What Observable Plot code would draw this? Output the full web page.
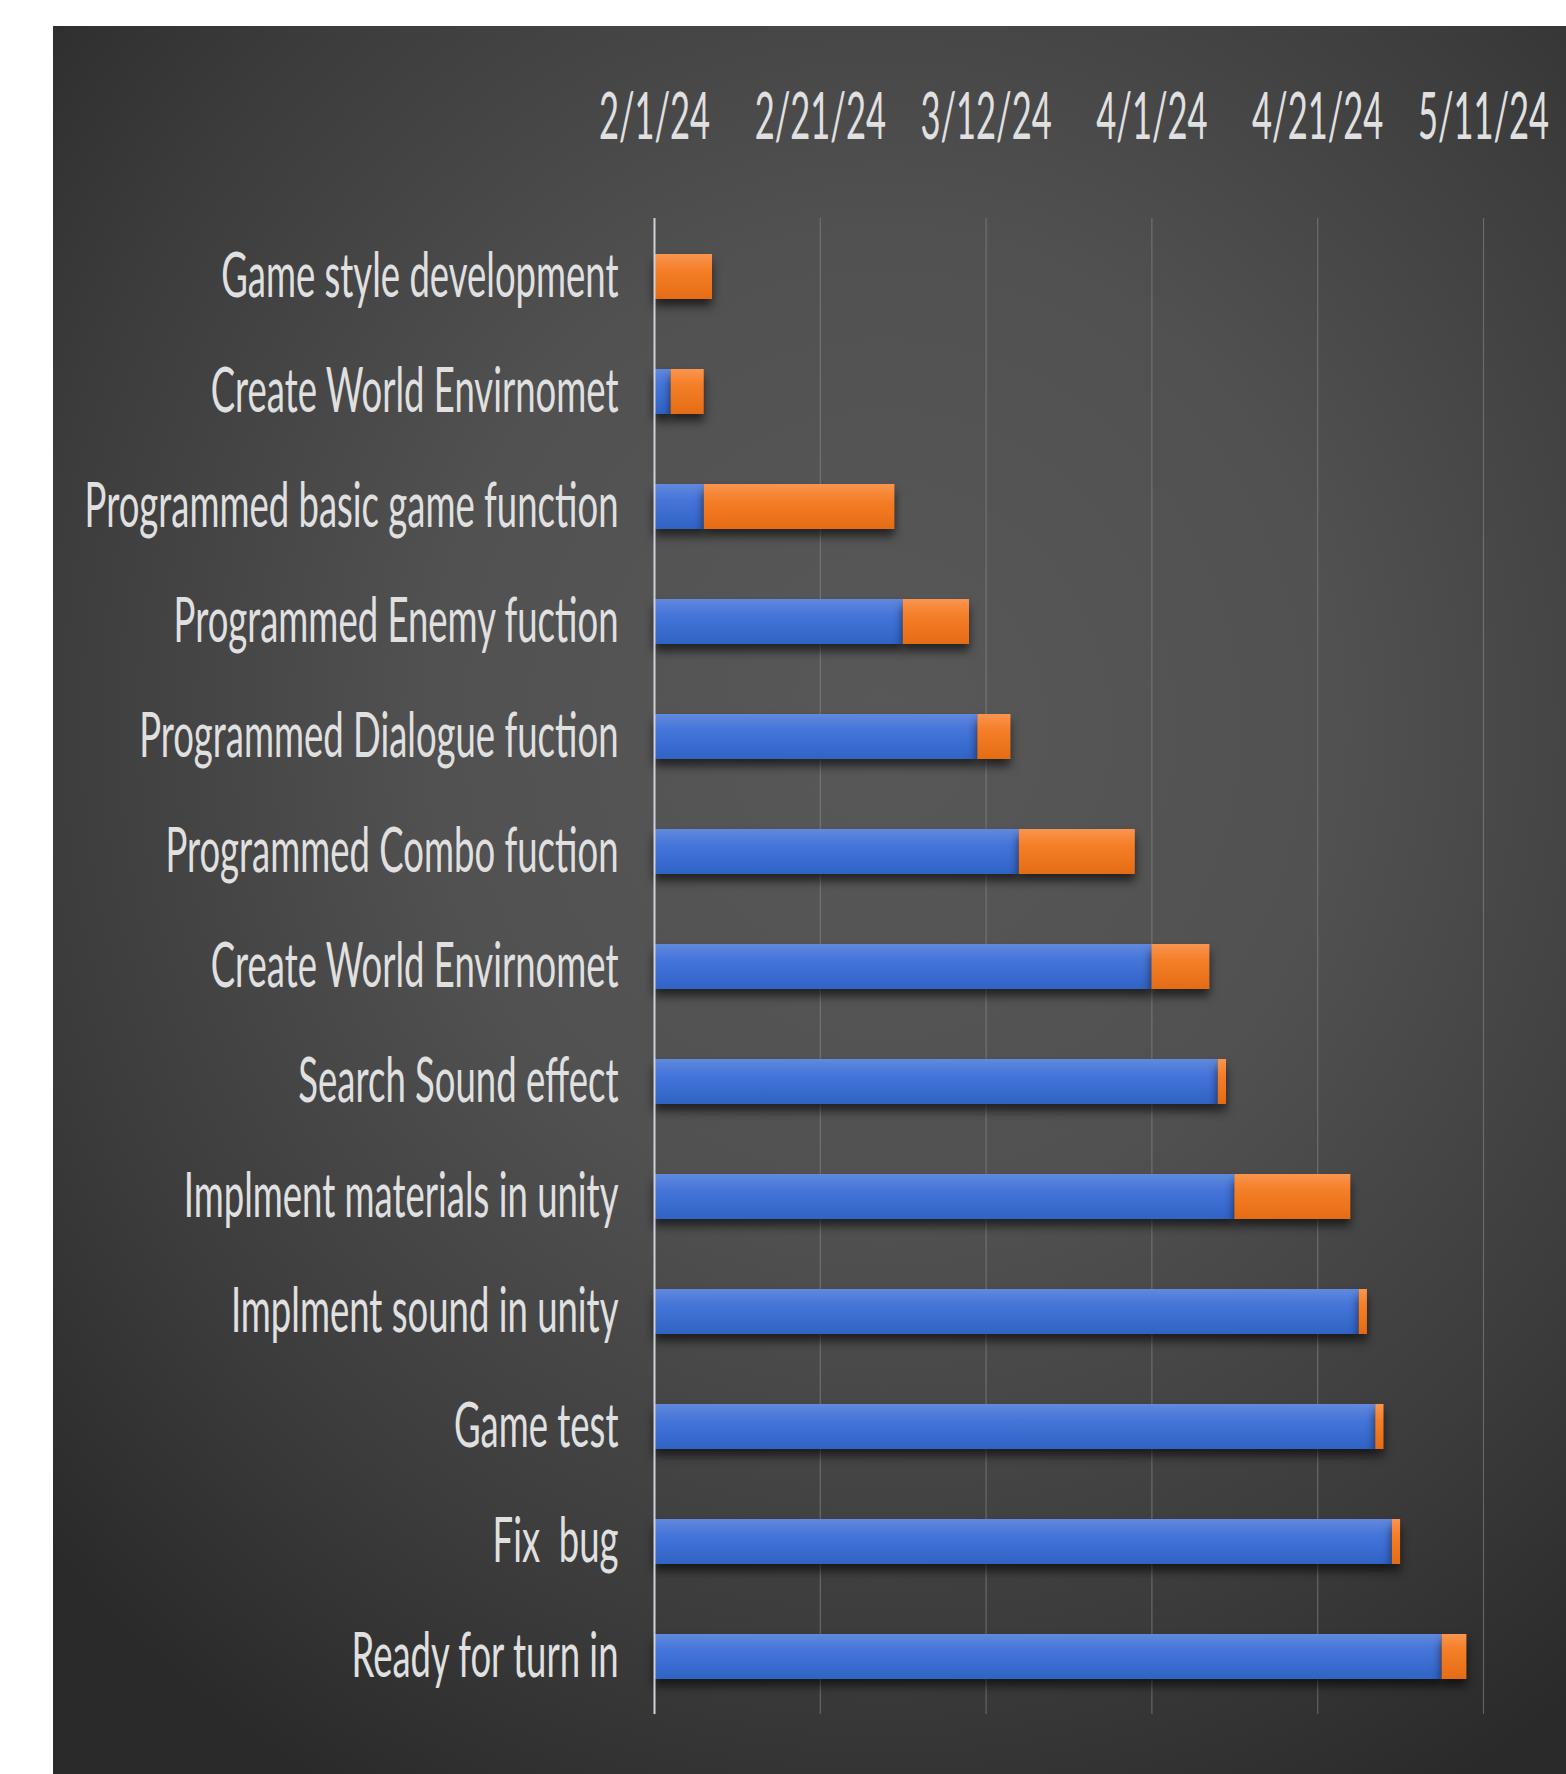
<!DOCTYPE html>
<html><head><meta charset="utf-8">
<script src="https://cdn.jsdelivr.net/npm/d3@7"></script>
<script src="https://cdn.jsdelivr.net/npm/@observablehq/plot@0.6"></script>
<style>
html,body{margin:0;padding:0;background:#fff;}
#panel{position:absolute;left:53px;top:26px;width:1513px;height:1748px;overflow:hidden;
  background:radial-gradient(ellipse 75% 70% at 55% 40%, #585858 0%, #515151 40%, #3c3c3c 75%, #2a2a2a 100%);}
#panel svg{background:transparent;}
g[aria-label="bar"]{filter:drop-shadow(0px 7px 5px rgba(0,0,0,0.6));}
</style></head><body><div id="panel"></div>
<script>
const tasks = [
  "Game style development",
  "Create World Envirnomet",
  "Programmed basic game function",
  "Programmed Enemy fuction",
  "Programmed Dialogue fuction",
  "Programmed Combo fuction",
  "Create World Envirnomet",
  "Search Sound effect",
  "Implment materials in unity",
  "Implment sound in unity",
  "Game test",
  "Fix  bug",
  "Ready for turn in"
];
const startDates = [
  "2024-02-01","2024-02-03","2024-02-07","2024-03-02","2024-03-11","2024-03-16",
  "2024-04-01","2024-04-09","2024-04-11","2024-04-26","2024-04-28","2024-04-30","2024-05-06"
];
const durations = [7, 4, 23, 8, 4, 14, 7, 1, 14, 1, 1, 1, 3];
const tickDates = ["2024-02-01","2024-02-21","2024-03-12","2024-04-01","2024-04-21","2024-05-11"];

const parse = d3.utcParse("%Y-%m-%d");
const ticks = tickDates.map(parse);
const d0 = ticks[0], dEnd = ticks[ticks.length - 1];
const rows = tasks.map((t, i) => {
  const s = parse(startDates[i]);
  return {i, task: t, axisStart: d0, start: s, end: d3.utcDay.offset(s, durations[i])};
});
const fmt = d3.utcFormat("%-m/%-d/%y");

const chart = Plot.plot({
  width: 1513, height: 1748,
  marginLeft: 601, marginRight: 83, marginTop: 192, marginBottom: 60,
  style: {background: "transparent", color: "#e0e0e0", fontFamily: "Lato"},
  x: {type: "utc", domain: [d0, dEnd]},
  y: {type: "band", domain: d3.range(tasks.length), paddingInner: 0.61, paddingOuter: 0.305},
  marks: [
    Plot.gridX(ticks, {stroke: "#8c8c8c", strokeOpacity: 0.55, strokeWidth: 1.2}),
    Plot.barX(rows, {y: "i", x1: "axisStart", x2: "start", fill: "url(#blueGrad)"}),
    Plot.barX(rows, {y: "i", x1: "start", x2: "end", fill: "url(#orangeGrad)"}),
    Plot.ruleX([d0], {stroke: "#cfd0d8", strokeWidth: 2}),
    Plot.axisX(ticks, {anchor: "top", tickSize: 0, tickPadding: 101, lineAnchor: "middle",
      tickFormat: fmt, fontSize: 34.5, fill: "#e0e0e0", label: null}),
    Plot.axisY({tickSize: 0, tickPadding: 36, tickFormat: i => tasks[i], fontSize: 36.5,
      fill: "#e0e0e0", label: null})
  ]
});

const svg = d3.select(chart);
const defs = svg.insert("defs", ":first-child");
function grad(id, stops) {
  const g = defs.append("linearGradient").attr("id", id)
    .attr("x1", 0).attr("y1", 0).attr("x2", 0).attr("y2", 1);
  stops.forEach(([o, c]) => g.append("stop").attr("offset", o).attr("stop-color", c));
}
grad("blueGrad", [["0%", "#6189dc"], ["35%", "#4675da"], ["100%", "#2f63c4"]]);
grad("orangeGrad", [["0%", "#f99550"], ["35%", "#f57f28"], ["100%", "#e46c14"]]);

function stretch(sel, s) {
  sel.each(function () {
    const t = this.getAttribute("transform");
    if (t) this.setAttribute("transform", t + ` scale(1,${s})`);
    else {
      const x = this.getAttribute("x") || 0, y = this.getAttribute("y") || 0;
      this.removeAttribute("x"); this.removeAttribute("y");
      this.setAttribute("transform", `translate(${x},${y}) scale(1,${s})`);
    }
  });
}
stretch(svg.selectAll('g[aria-label="y-axis tick label"] text'), 1.71);
stretch(svg.selectAll('g[aria-label="x-axis tick label"] text'), 1.92);

document.getElementById("panel").appendChild(chart);
</script>
</body></html>
